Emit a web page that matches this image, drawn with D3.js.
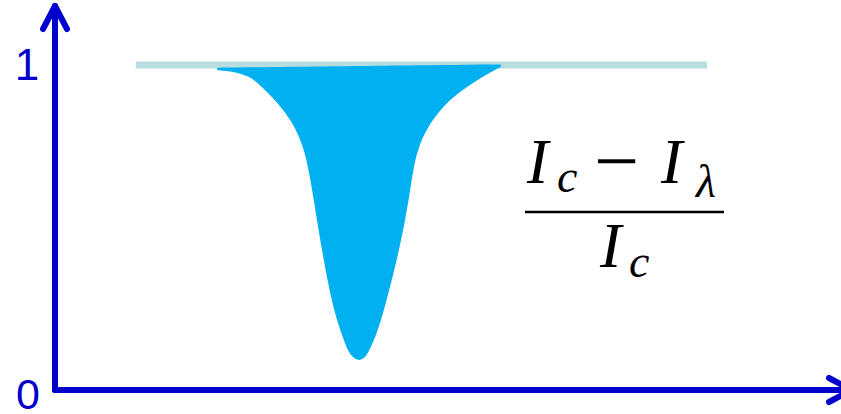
<!DOCTYPE html>
<html>
<head>
<meta charset="utf-8">
<script src="https://cdn.jsdelivr.net/npm/d3@7"></script>
<style>
  body { margin: 0; background: #fff; }
  svg { display: block; }
</style>
</head>
<body>
<div class="chart"></div>
<script>
// wavelength (arbitrary units) and normalised intensity of the absorption line
var wavelength = [20.4, 22.5, 24.4, 25.9, 27.75, 29.75, 31.5, 32.5, 33.5, 34.7, 35.4, 36.25, 36.75, 37.25, 38.0,
                  38.75, 39.1, 39.75, 40.6, 41.3, 42.9, 44.1, 44.9, 46.9, 49.0, 51.5, 53.5, 55.6];
var intensity  = [0.988, 0.983, 0.969, 0.938, 0.892, 0.831, 0.738, 0.585, 0.431, 0.277, 0.215, 0.154, 0.123, 0.105, 0.092,
                  0.105, 0.123, 0.154, 0.215, 0.277, 0.431, 0.585, 0.738, 0.831, 0.892, 0.938, 0.969, 0.997];
// continuum level at the two ends of the line
var continuumEnds = [0.988, 0.998];
// continuum reference line I = 1
var refLine = [10.1, 81.5];
var refLevel = 1;
var tickLabels = ["0", "1"];

var width = 841, height = 414;
var axisColor = "#0000cc";

var svg = d3.select("div.chart").append("svg")
    .attr("width", width)
    .attr("height", height);

var x = d3.scaleLinear().domain([0, 100]).range([55, 855]);
var y = d3.scaleLinear().domain([0, 1]).range([390, 65]);

var data = wavelength.map(function (w, i) {
    return {w: w, v: intensity[i]};
});

var w0 = wavelength[0], w1 = wavelength[wavelength.length - 1];
var cont = d3.scaleLinear().domain([w0, w1]).range(continuumEnds);

// reference line at I = 1
svg.append("line")
    .attr("x1", x(refLine[0]))
    .attr("x2", x(refLine[1]))
    .attr("y1", y(refLevel))
    .attr("y2", y(refLevel))
    .attr("stroke", "#b7dde0")
    .attr("stroke-width", 7);

// the line profile
var area = d3.area()
    .curve(d3.curveBasis)
    .x(function (d) { return x(d.w); })
    .y0(function (d) { return y(cont(d.w)); })
    .y1(function (d) { return y(d.v); });

svg.append("path")
    .datum(data)
    .attr("d", area)
    .attr("fill", "#00b0f0")
    .attr("stroke", "#00b0f0")
    .attr("stroke-width", 2.5)
    .attr("stroke-linejoin", "round")
    .attr("stroke-linecap", "round");

// axes with arrow heads
var ax = svg.append("g")
    .attr("stroke", axisColor)
    .attr("stroke-width", 6)
    .attr("stroke-linecap", "round")
    .attr("stroke-linejoin", "round")
    .attr("fill", "none");

var x0 = x(0), yBase = y(0), yTop = 6, xEnd = x(100) - 3;

ax.append("path")
    .attr("d", "M" + x0 + "," + yBase + "V" + yTop);
ax.append("path")
    .attr("d", "M" + (x0 - 12) + "," + (yTop + 23) + "L" + x0 + "," + yTop + "L" + (x0 + 12) + "," + (yTop + 23));

ax.append("path")
    .attr("d", "M" + x0 + "," + yBase + "H" + xEnd);
ax.append("path")
    .attr("d", "M" + (xEnd - 23) + "," + (yBase - 12) + "L" + xEnd + "," + yBase + "L" + (xEnd - 23) + "," + (yBase + 12));

// tick labels
svg.append("text")
    .attr("x", 28)
    .attr("y", y(0) + 19)
    .attr("text-anchor", "middle")
    .attr("font-family", "'Liberation Sans', Arial, sans-serif")
    .attr("font-size", 43)
    .attr("fill", axisColor)
    .text(tickLabels[0]);

svg.append("text")
    .attr("x", 27)
    .attr("y", y(1) + 15)
    .attr("text-anchor", "middle")
    .attr("font-family", "'Liberation Sans', Arial, sans-serif")
    .attr("font-size", 44)
    .attr("fill", axisColor)
    .text(tickLabels[1]);

// formula (I_c - I_lambda) / I_c
var f = svg.append("g")
    .attr("font-family", "'Liberation Serif', 'Times New Roman', serif")
    .attr("fill", "#000");

function glyph(txt, px, py, size, italic, family) {
    var t = f.append("text")
        .attr("x", px)
        .attr("y", py)
        .attr("font-size", size)
        .attr("font-style", italic ? "italic" : "normal")
        .text(txt);
    if (family) t.attr("font-family", family);
}

glyph("I", 527, 183, 64, true);
glyph("c", 557, 192, 46, true);
glyph("\u2212", 594, 188, 80, false);
glyph("I", 661, 183, 64, true);
glyph("\u03bb", 696, 197, 46, true);

f.append("line")
    .attr("x1", 525)
    .attr("x2", 724)
    .attr("y1", 212)
    .attr("y2", 212)
    .attr("stroke", "#000")
    .attr("stroke-width", 2.5);

glyph("I", 600, 267, 64, true);
glyph("c", 629, 277, 46, true);
</script>
</body>
</html>
